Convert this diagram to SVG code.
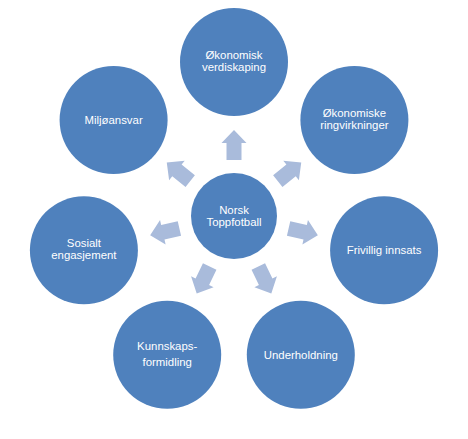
<svg xmlns="http://www.w3.org/2000/svg" width="468" height="439" viewBox="0 0 468 439">
<style>
.c{fill:#4F81BD}
.t{font-family:"Liberation Sans",Arial,sans-serif;font-size:11.4px;fill:#FFFFFF;text-anchor:middle}
.a{fill:#A9BBDB}
</style>
<defs>
<path id="arr" d="M56,-7.5 L73,-7.5 L73,-12.5 L86,0 L73,12.5 L73,7.5 L56,7.5 Z"/>
</defs>
<rect width="468" height="439" fill="#FFFFFF"/>
<g id="connectors" class="a" transform="translate(234,216)">
<use href="#arr" transform="rotate(-90)"/>
<use href="#arr" transform="rotate(-38.57)"/>
<use href="#arr" transform="rotate(12.86)"/>
<use href="#arr" transform="rotate(64.29)"/>
<use href="#arr" transform="rotate(115.71)"/>
<use href="#arr" transform="rotate(167.14)"/>
<use href="#arr" transform="rotate(218.57)"/>
</g>
<g id="center">
<circle class="c" cx="234" cy="216" r="43"/>
<text class="t" x="234" y="213.5">Norsk</text>
<text class="t" x="234" y="225.5">Toppfotball</text>
</g>
<g id="n1">
<circle class="c" cx="234" cy="62" r="54"/>
<text class="t" x="234" y="58.5">Økonomisk</text>
<text class="t" x="234" y="70.5">verdiskaping</text>
</g>
<g id="n2">
<circle class="c" cx="354.4" cy="120" r="54"/>
<text class="t" x="354.4" y="116.5">Økonomiske</text>
<text class="t" x="354.4" y="128.5">ringvirkninger</text>
</g>
<g id="n3">
<circle class="c" cx="384.1" cy="250.3" r="54"/>
<text class="t" x="384.1" y="254">Frivillig innsats</text>
</g>
<g id="n4">
<circle class="c" cx="300.8" cy="354.8" r="54"/>
<text class="t" x="300.8" y="358.5">Underholdning</text>
</g>
<g id="n5">
<circle class="c" cx="167.2" cy="354.8" r="54"/>
<text class="t" x="167.2" y="350">Kunnskaps-</text>
<text class="t" x="167.2" y="366">formidling</text>
</g>
<g id="n6">
<circle class="c" cx="83.9" cy="250.3" r="54"/>
<text class="t" x="83.9" y="246.5">Sosialt</text>
<text class="t" x="83.9" y="258.5">engasjement</text>
</g>
<g id="n7">
<circle class="c" cx="113.6" cy="120" r="54"/>
<text class="t" x="113.6" y="123.5">Miljøansvar</text>
</g>
</svg>
